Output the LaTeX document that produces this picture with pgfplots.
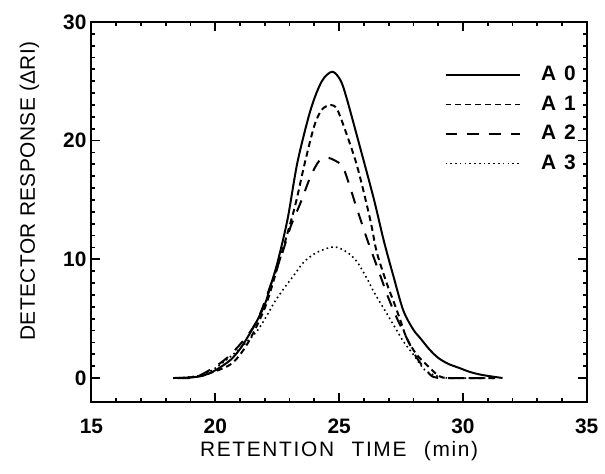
\documentclass[border=0pt]{standalone}
\usepackage{fontspec}
\setmainfont{Liberation Sans}
\usepackage{pgfplots}
\pgfplotsset{compat=1.18}

% A0..A3 chromatograms
\pgfplotstableread{
x y
18.3 0
19.0 0.05
19.5 0.2
20.0 0.65
20.6 1.5
21.05 2.6
21.6 4.5
22.0 6.2
22.25 7.9
22.52 9.8
22.92 13.4
23.32 18.2
23.85 22.6
24.3 25.0
24.72 25.8
25.05 25.1
25.3 23.6
25.85 19.4
26.4 15.1
26.8 11.6
27.19 8.6
27.59 5.7
27.99 4.1
28.3 3.3
28.65 2.4
29.0 1.7
29.4 1.2
29.85 0.85
30.3 0.5
30.8 0.25
31.6 0
}\Azero
\pgfplotstableread{
x y
18.5 0
19.2 0.1
19.7 0.35
20.65 1.2
21.3 2.9
22.0 5.9
22.5 9.25
23.19 14.25
23.59 17.9
23.99 21.2
24.3 22.6
24.65 23.0
24.9 22.7
25.19 21.2
25.72 17.9
26.25 13.4
26.52 10.6
26.92 8.0
27.19 6.5
27.45 5.0
27.72 3.4
28.12 2.0
28.59 1.0
29.05 0.15
29.5 0
31.3 0
}\Aone
\pgfplotstableread{
x y
18.5 0
19.3 0.15
20.5 1.75
21.6 4.5
22.3 8.2
22.7 10.5
23.05 12.8
23.45 14.8
23.85 17.0
24.2 18.3
24.52 18.55
24.85 18.3
25.19 17.6
25.72 14.25
26.12 11.75
26.39 10.2
26.65 8.7
26.99 6.75
27.32 5.1
27.72 3.4
28.12 1.75
28.5 0.7
28.8 0.1
29.3 0
31.3 0
}\Atwo
\pgfplotstableread{
x y
18.5 0
19.0 0.1
19.6 0.35
20.25 1.2
21.05 2.6
21.7 4.0
22.12 5.4
22.39 6.4
22.79 7.6
23.19 8.7
23.59 9.8
24.12 10.6
24.79 11.05
25.32 10.6
25.72 9.8
26.12 8.4
26.39 7.3
26.79 5.9
27.19 4.5
27.59 3.1
27.99 2.0
28.45 0.7
28.9 0.2
29.4 0
31.0 0
}\Athree

\begin{document}
\begin{tikzpicture}
\begin{axis}[
  scale only axis,
  width=249pt, height=191pt,
  xmin=15, xmax=35, ymin=-2, ymax=30,
  xtick={15,20,...,35}, ytick={0,10,20,30},
  minor x tick num=4, minor y tick num=9,
  tick align=inside,
  major tick length=4.5pt, minor tick length=2pt,
  axis line style={line width=1pt},
  every tick/.style={line width=0.9pt, black},
  tick label style={font=\bfseries\fontsize{10.5}{12}\selectfont},
  /pgf/number format/assume math mode=true,
  xticklabel style={yshift=-5pt},
  yticklabel style={xshift=1pt},
  xlabel={\addfontfeature{LetterSpace=8}RETENTION\hspace{5pt} TIME\hspace{5pt} (min)},
  ylabel={\addfontfeature{LetterSpace=2}DETECTOR RESPONSE (ΔRI)},
  label style={font=\fontsize{10.5}{12}\selectfont},
  xlabel style={at={(axis description cs:0.5,-0.13)}, anchor=center},
  ylabel style={at={(axis description cs:-0.125,0.555)}, anchor=center},
  legend style={at={(axis description cs:0.70,0.905)}, anchor=north west,
    draw=none, fill=none, row sep=2pt,
    font=\bfseries\fontsize{10.5}{12}\selectfont,
    /tikz/every odd column/.append style={column sep=8pt}},
  legend cell align=left,
  legend image code/.code={\draw[#1] (0pt,0pt) -- (37.5pt,0pt);},
  every axis plot/.append style={line width=1pt, smooth, tension=0.5},
]
\addplot[black] table {\Azero};
\addlegendentry{A\hspace{4pt}0}
\addplot[black, dash pattern=on 3pt off 2pt] table {\Aone};
\addlegendentry{A\hspace{4pt}1}
\addplot[black, dash pattern=on 6pt off 5pt] table {\Atwo};
\addlegendentry{A\hspace{4pt}2}
\addplot[black, line width=0.8pt, dash pattern=on 0.8pt off 1.6pt] table {\Athree};
\addlegendentry{A\hspace{4pt}3}
\end{axis}
\path ([shift={(-46pt,-36pt)}]current axis.south west)
  rectangle ([shift={(7.5pt,11pt)}]current axis.north east);
\end{tikzpicture}
\end{document}
